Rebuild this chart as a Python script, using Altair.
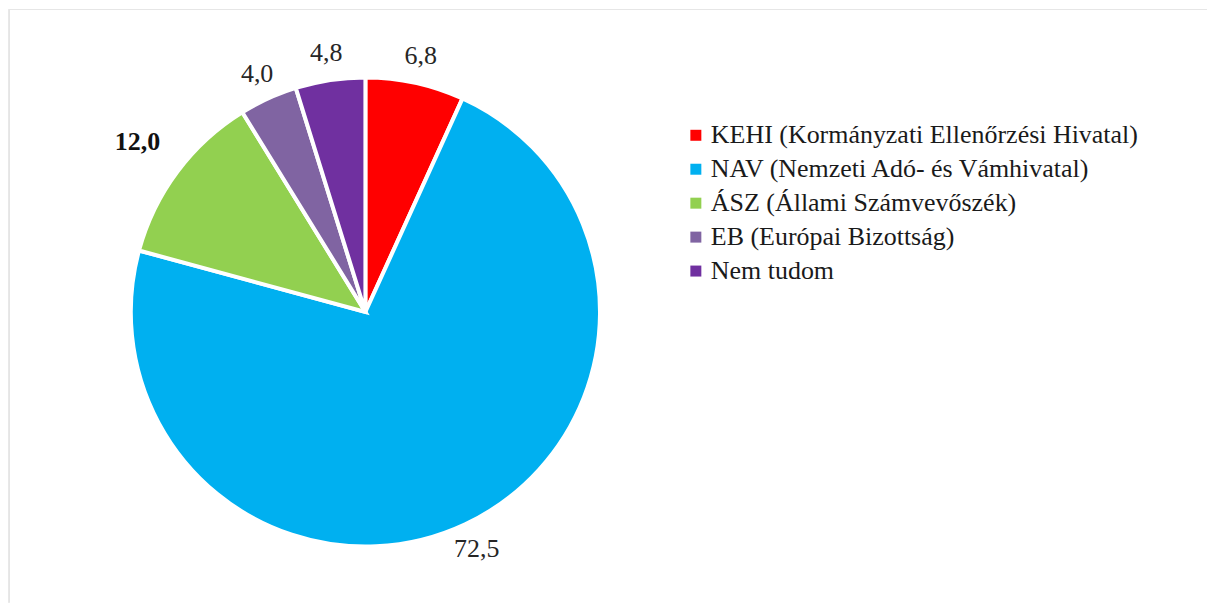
import altair as alt
import pandas as pd

categories = [
    "KEHI (Kormányzati Ellenőrzési Hivatal)",
    "NAV (Nemzeti Adó- és Vámhivatal)",
    "ÁSZ (Állami Számvevőszék)",
    "EB (Európai Bizottság)",
    "Nem tudom",
]
values = [6.8, 72.5, 12.0, 4.0, 4.8]
labels = ["6,8", "72,5", "12,0", "4,0", "4,8"]
bold = [False, False, True, False, False]
colors = ["#FF0000", "#00B0F0", "#92D050", "#8064A2", "#7030A0"]

df = pd.DataFrame({
    "cat": categories,
    "value": values,
    "label": labels,
    "bold": bold,
    "order": list(range(len(categories))),
})

FONT = "Liberation Serif"
CX, CY = 357, 303
theta_scale = alt.Scale(domain=[0, 1])

base = (
    alt.Chart(df)
    .transform_joinaggregate(total="sum(value)")
    .transform_window(cum="sum(value)", sort=[alt.SortField("order")], frame=[None, 0])
    .transform_calculate(
        start="(datum.cum - datum.value) / datum.total",
        end="datum.cum / datum.total",
        mid="(datum.cum - datum.value / 2) / datum.total",
    )
)

pie = base.mark_arc(outerRadius=235, stroke="white", strokeWidth=4).encode(
    theta=alt.Theta("start:Q", scale=theta_scale),
    theta2="end:Q",
    x=alt.value(CX),
    y=alt.value(CY),
    color=alt.Color(
        "cat:N",
        scale=alt.Scale(domain=categories, range=colors),
        sort=categories,
        legend=alt.Legend(
            title=None,
            orient="none",
            legendX=675,
            legendY=113,
            symbolType="square",
            symbolSize=121,
            symbolStrokeWidth=0,
            labelFont=FONT,
            labelFontSize=26,
            labelColor="#1a1a1a",
            labelLimit=700,
            rowPadding=8,
            labelOffset=2,
        ),
    ),
)

txt_normal = base.transform_filter("!datum.bold").mark_text(
    radius=262, font=FONT, fontSize=26, color="#262626"
).encode(
    theta=alt.Theta("mid:Q", scale=theta_scale),
    x=alt.value(CX), y=alt.value(CY), text="label:N",
)

txt_bold = base.transform_filter("datum.bold").mark_text(
    radius=285, font=FONT, fontSize=26, fontWeight="bold", color="#111111"
).encode(
    theta=alt.Theta("mid:Q", scale=theta_scale),
    x=alt.value(CX), y=alt.value(CY), text="label:N",
)

frame_top = alt.Chart(df).mark_rule(color="#e6e6e6", strokeWidth=1).encode(
    x=alt.value(0), x2=alt.value(1200), y=alt.value(0)
)
frame_left = alt.Chart(df).mark_rule(color="#e6e6e6", strokeWidth=1).encode(
    x=alt.value(0), y=alt.value(0), y2=alt.value(594)
)

chart = alt.layer(pie, txt_normal, txt_bold, frame_top, frame_left).properties(
    width=1200, height=594, padding=0,
    view=alt.ViewBackground(stroke="transparent", strokeWidth=0),
).configure_view(stroke="transparent", strokeWidth=0, strokeOpacity=0).configure(
    background="white"
)

chart.save("out.html", embed_options={"renderer": "svg", "actions": False})
